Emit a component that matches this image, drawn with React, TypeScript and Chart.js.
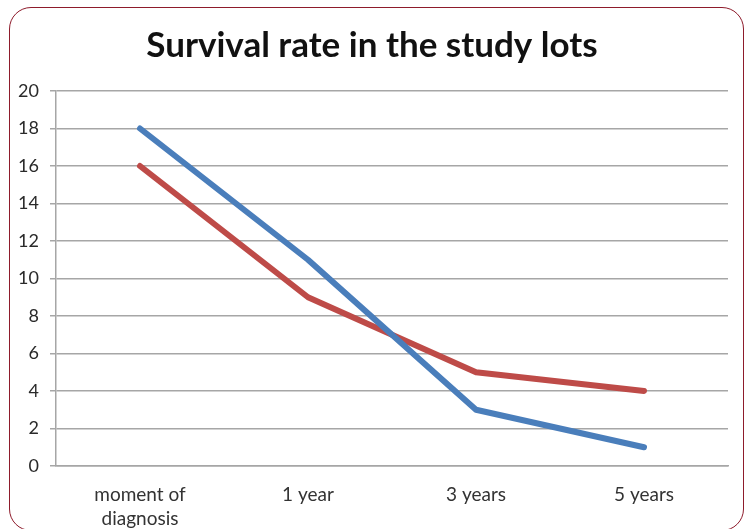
import React, { useEffect, useRef } from "react";
import { Chart, registerables } from "chart.js";

Chart.register(...registerables);

const categories: (string | string[])[] = [["moment of", "diagnosis"], "1 year", "3 years", "5 years"];
const blueSeries = [18, 11, 3, 1];
const redSeries = [16, 9, 5, 4];
const yTicks = [0, 2, 4, 6, 8, 10, 12, 14, 16, 18, 20];

export default function App() {
  const ref = useRef<HTMLCanvasElement | null>(null);
  useEffect(() => {
    if (!ref.current) return;
    const chart = new Chart(ref.current, {
      type: "line",
      data: {
        labels: categories,
        datasets: [
          {
            label: "Series 1",
            data: blueSeries,
            borderColor: "#4a7ebb",
            backgroundColor: "#4a7ebb",
            borderWidth: 6,
            pointRadius: 0,
            tension: 0,
            borderCapStyle: "round",
            borderJoinStyle: "round",
          },
          {
            label: "Series 2",
            data: redSeries,
            borderColor: "#be4b48",
            backgroundColor: "#be4b48",
            borderWidth: 6,
            pointRadius: 0,
            tension: 0,
            borderCapStyle: "round",
            borderJoinStyle: "round",
          },
        ],
      },
      options: {
        animation: false,
        responsive: false,
        maintainAspectRatio: false,
        layout: { padding: { top: 10, right: 14, left: 6, bottom: 0 } },
        plugins: {
          legend: { display: false },
          tooltip: { enabled: false },
          title: {
            display: true,
            text: "Survival rate in the study lots",
            color: "#111",
            font: { family: "Lato", size: 35, weight: "bold" },
            padding: { top: 7, bottom: 24 },
          },
        },
        scales: {
          x: {
            offset: true,
            grid: { display: false, drawTicks: false },
            border: { display: true, color: "#a6a6a6", width: 1.5 },
            ticks: {
              color: "#333",
              font: { family: "Lato", size: 19, lineHeight: 1.25 },
              padding: 17,
              maxRotation: 0,
            },
            afterFit: (s: any) => {
              s.height = 62;
            },
          },
          y: {
            min: 0,
            max: 20,
            afterBuildTicks: (s: any) => {
              s.ticks = yTicks.map((v) => ({ value: v }));
            },
            grid: { color: "#a6a6a6", lineWidth: 1.5, tickLength: 6 },
            border: { display: true, color: "#a6a6a6", width: 1.5 },
            ticks: {
              color: "#2a2a2a",
              font: { family: "Lato", size: 18 },
              padding: 11,
            },
            afterFit: (s: any) => {
              s.width = 40;
            },
          },
        },
      },
    });
    return () => chart.destroy();
  }, []);
  return (
    <div
      style={{
        position: "absolute",
        left: 9,
        top: 7,
        width: 735,
        height: 524,
        boxSizing: "border-box",
        border: "1.5px solid #8e1b2b",
        borderRadius: 22,
        background: "#fff",
        overflow: "hidden",
      }}
    >
      <canvas ref={ref} width={732} height={520} style={{ display: "block" }} />
    </div>
  );
}
